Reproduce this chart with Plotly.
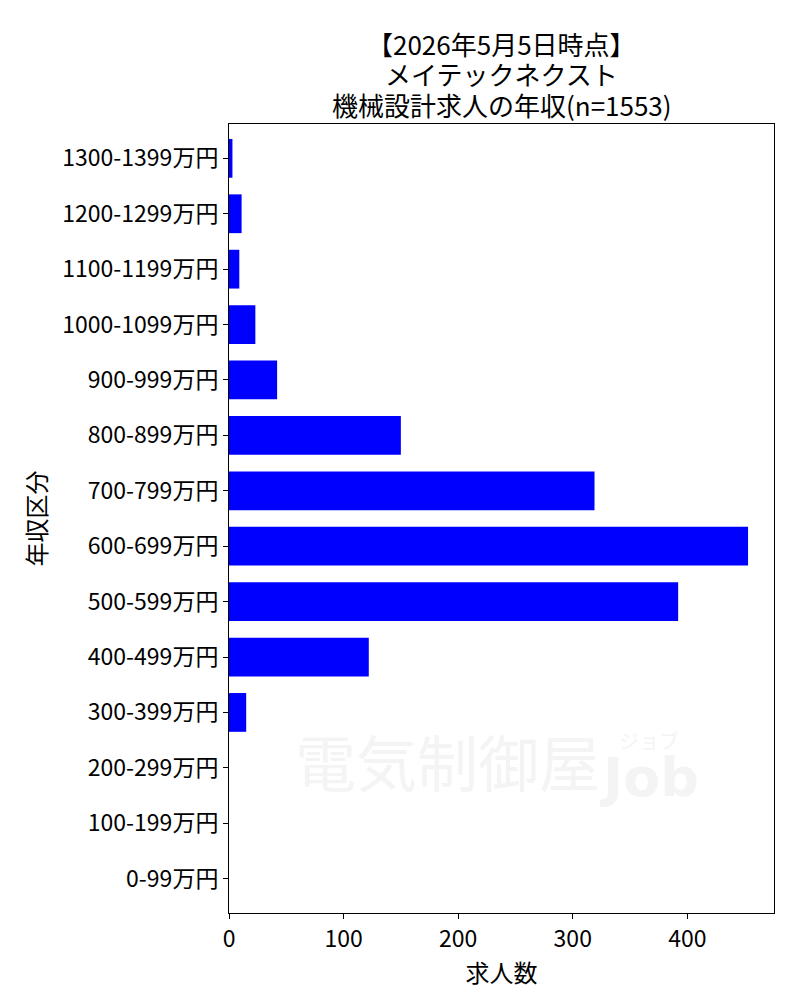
import plotly.graph_objects as go

# 年収区分 (bottom -> top) and number of job postings
salary_bins = ['0-99万円', '100-199万円', '200-299万円', '300-399万円', '400-499万円',
               '500-599万円', '600-699万円', '700-799万円', '800-899万円', '900-999万円',
               '1000-1099万円', '1100-1199万円', '1200-1299万円', '1300-1399万円']
job_counts = [0, 0, 0, 15, 122, 392, 453, 319, 150, 42, 23, 9, 11, 3]
x_ticks = [0, 100, 200, 300, 400]

title_lines = ['【2026年5月5日時点】', 'メイテックネクスト', '機械設計求人の年収(n=1553)']

FONT = 'Noto Sans CJK JP'
WM = '#f4f4f4'

fig = go.Figure()
fig.add_trace(go.Bar(
    x=job_counts,
    y=salary_bins,
    orientation='h',
    marker=dict(color='#0000ff', line=dict(width=0)),
))

# title, one line per annotation so the line spacing matches
for yy, line in zip([1.1014, 1.0634, 1.0253], title_lines):
    fig.add_annotation(text=line, xref='paper', yref='paper', x=0.5, y=yy,
                       xanchor='center', yanchor='middle', showarrow=False,
                       font=dict(family=FONT, size=26, color='black'))

# faint watermark behind the bars
fig.add_annotation(text='電気制御屋', xref='paper', yref='paper', x=0.117, y=0.193,
                   xanchor='left', yanchor='middle', showarrow=False,
                   font=dict(family=FONT, size=61, color=WM))
fig.add_annotation(text='Job', xref='paper', yref='paper', x=0.675, y=0.172,
                   xanchor='left', yanchor='middle', showarrow=False,
                   font=dict(family='DejaVu Sans', size=54, color=WM, weight='bold'))
fig.add_annotation(text='ジョブ', xref='paper', yref='paper', x=0.712, y=0.218,
                   xanchor='left', yanchor='middle', showarrow=False,
                   font=dict(family=FONT, size=20, color=WM))

fig.update_layout(
    width=800, height=1000,
    margin=dict(l=221, r=34, t=116, b=95),
    paper_bgcolor='white', plot_bgcolor='white',
    font=dict(family=FONT, color='black'),
    showlegend=False,
    bargap=0.3,
)
fig.update_xaxes(
    range=[0, max(job_counts) * 1.05], tickvals=x_ticks,
    showgrid=False, zeroline=False,
    showline=True, linecolor='black', linewidth=1, mirror=True,
    ticks='outside', ticklen=5, tickcolor='black',
    tickfont=dict(family=FONT, size=23),
    title=dict(text='求人数', font=dict(family=FONT, size=24), standoff=0),
)
fig.update_yaxes(
    range=[-0.62, len(salary_bins) - 1 + 0.62],
    showgrid=False, zeroline=False,
    showline=True, linecolor='black', linewidth=1, mirror=True,
    ticks='outside', ticklen=5, tickcolor='black',
    tickfont=dict(family=FONT, size=23),
    title=dict(text='年収区分', font=dict(family=FONT, size=24), standoff=8),
)

fig.write_html('out.html')
